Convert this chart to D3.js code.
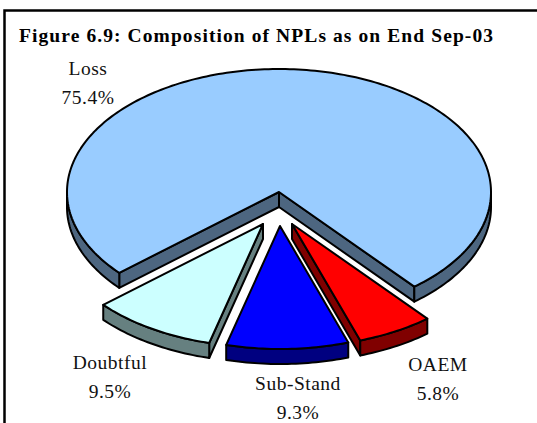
<!DOCTYPE html>
<html>
<head>
<meta charset="utf-8">
<script src="https://cdn.jsdelivr.net/npm/d3@7"></script>
<style>html,body{margin:0;padding:0;background:#fff;overflow:hidden}svg{display:block}text{font-family:"Liberation Serif",serif}</style>
</head>
<body>
<svg id="c" width="537" height="423"></svg>
<script>
const categories = ["Loss", "OAEM", "Sub-Stand", "Doubtful"];
const values = [75.4, 5.8, 9.3, 9.5];
const valueLabels = ["75.4%", "5.8%", "9.3%", "9.5%"];
const topColors = ["#99ccff", "#ff0000", "#0000ff", "#ccffff"];
const sideColors = ["#4d6680", "#800000", "#000080", "#668080"];
const title = "Figure 6.9: Composition of NPLs as on End Sep-03";

const cx = 279, cy = 192, rx = 212, ry = 123, depth = 15;
const offsets = [[0,0],[13,32],[1,34],[-16,32]];
const labelPos = [[88,75],[438,371],[298,390],[110,369]];
const svg = d3.select("#c");
svg.append("rect").attr("x",4.5).attr("y",10.5).attr("width",600).attr("height",500)
  .attr("fill","#fff").attr("stroke","#000").attr("stroke-width",2.5);

const startDeg = 228.9;
const pie = d3.pie().sort(null).value(d=>d)
  .startAngle(startDeg*Math.PI/180).endAngle((startDeg+360)*Math.PI/180);
const arcs = pie(values);
const pt = (a,dz=0)=>[rx*Math.sin(a), -ry*Math.cos(a)+dz];
const line = d3.line();
const samples = (a0,a1)=>{const n=Math.max(2,Math.ceil(Math.abs(a1-a0)/0.02));
  return d3.range(n+1).map(i=>a0+(a1-a0)*i/n);};
const PI=Math.PI;

function frontRanges(a0,a1){
  const out=[];
  for(const k of [0,1]){
    const lo=PI/2+k*2*PI, hi=3*PI/2+k*2*PI;
    const s=Math.max(a0,lo), e=Math.min(a1,hi);
    if(e>s) out.push([s,e]);
  }
  return out;
}
function wall(s,e){
  const top=samples(s,e).map(a=>pt(a));
  const bot=samples(e,s).map(a=>pt(a,depth));
  return line(top.concat(bot))+"Z";
}
function cut(a){const p=pt(a);return line([[0,0],p,[p[0],p[1]+depth],[0,depth]])+"Z";}

const order=[0,3,1,2];
order.forEach(i=>{
  const d=arcs[i];
  const g=svg.append("g").attr("transform",`translate(${cx+offsets[i][0]},${cy+offsets[i][1]})`);
  const side=path=>g.append("path").attr("d",path).attr("fill",sideColors[i])
    .attr("stroke","#000").attr("stroke-width",2).attr("stroke-linejoin","round");
  if(i===0){ side(cut(d.startAngle)); side(cut(d.endAngle)); }
  if(i===1) side(cut(d.endAngle));
  if(i===3) side(cut(d.startAngle));
  frontRanges(d.startAngle,d.endAngle).forEach(r=>side(wall(r[0],r[1])));
  const outline=[[0,0]].concat(samples(d.startAngle,d.endAngle).map(a=>pt(a)));
  g.append("path").attr("d",line(outline)+"Z").attr("fill",topColors[i])
    .attr("stroke","#000").attr("stroke-width",2).attr("stroke-linejoin","round");
});

svg.append("text").attr("x",19).attr("y",42).attr("font-size",19.5).attr("font-weight","bold")
  .attr("textLength",474).attr("fill","#000").text(title);
categories.forEach((c,i)=>{
  const t=svg.append("text").attr("text-anchor","middle").attr("font-size",19.5)
    .attr("letter-spacing",0.5).attr("fill","#111");
  t.append("tspan").attr("x",labelPos[i][0]).attr("y",labelPos[i][1]).text(c);
  t.append("tspan").attr("x",labelPos[i][0]).attr("y",labelPos[i][1]+28.5).text(valueLabels[i]);
});
</script>
</body>
</html>
